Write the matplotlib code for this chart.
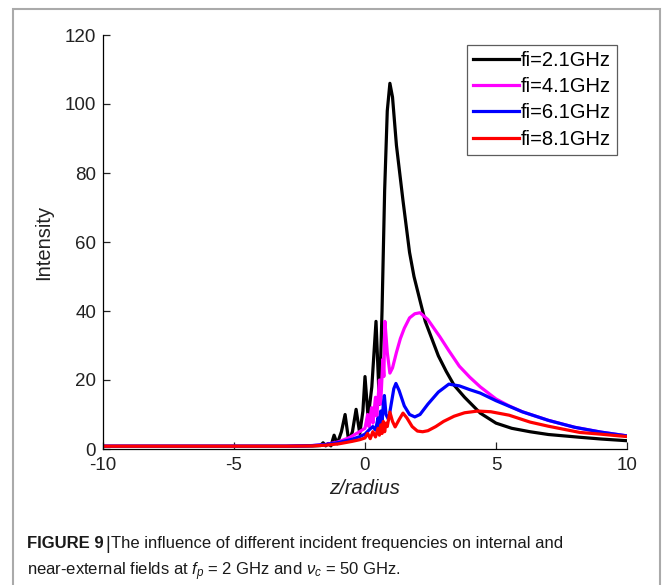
import matplotlib
matplotlib.use("Agg")
import matplotlib.pyplot as plt
from matplotlib.patches import Rectangle

plt.rcParams['font.family'] = ['Liberation Sans', 'DejaVu Sans']
plt.rcParams['mathtext.fontset'] = 'custom'
plt.rcParams['mathtext.it'] = 'Liberation Sans:italic'
plt.rcParams['mathtext.rm'] = 'Liberation Sans'
plt.rcParams['axes.unicode_minus'] = False

# ---- data ----
z_black = [-10, -6, -3, -2, -1.7, -1.6, -1.5, -1.4, -1.3, -1.18, -1.06, -0.9, -0.76, -0.62,
           -0.48, -0.34, -0.2, -0.08, 0.0, 0.12, 0.26, 0.42, 0.55, 0.65, 0.75, 0.85, 0.95,
           1.05, 1.2, 1.45, 1.7, 1.87, 2.1, 2.3, 2.5, 2.8, 3.1, 3.4, 3.8, 4.4, 5.0, 5.6,
           6.3, 7.0, 8.2, 9.0, 10.0]
i_black = [0.8, 0.8, 0.8, 0.9, 1.0, 1.8, 0.9, 1.6, 0.9, 4.0, 1.5, 5.0, 10.0, 2.2,
           5.0, 11.5, 4.5, 11.0, 21.0, 9.0, 18.0, 37.0, 13.0, 40.0, 75.0, 98.0, 106.0,
           102.0, 88.0, 72.0, 57.0, 50.0, 43.0, 37.0, 33.0, 27.0, 22.5, 18.5, 15.0, 10.4,
           7.5, 6.0, 5.0, 4.2, 3.4, 2.9, 2.4]

z_mag = [-10, -3, -2, -1.5, -1.0, -0.6, -0.3, 0.0, 0.1, 0.15, 0.25, 0.3, 0.4, 0.45, 0.55,
         0.6, 0.68, 0.72, 0.76, 0.85, 0.95, 1.05, 1.2, 1.35, 1.5, 1.7, 1.9, 2.1, 2.4,
         2.86, 3.2, 3.6, 4.0, 4.4, 5.0, 5.5, 6.0, 7.0, 8.0, 9.0, 10.0]
i_mag = [0.8, 0.8, 1.0, 1.3, 2.1, 3.3, 4.6, 6.0, 10.0, 6.5, 12.0, 7.5, 15.0, 9.5, 20.0,
         13.0, 26.0, 21.0, 37.0, 28.0, 22.0, 23.5, 28.0, 32.0, 35.0, 38.0, 39.2, 39.5,
         37.5, 32.5, 28.5, 24.0, 20.8, 18.0, 14.5, 12.5, 10.8, 8.3, 6.3, 4.9, 3.8]

z_blue = [-10, -3, -2, -1.5, -1, -0.5, -0.2, 0.0, 0.15, 0.3, 0.4, 0.5, 0.55, 0.6, 0.65,
          0.7, 0.74, 0.8, 0.9, 1.0, 1.1, 1.18, 1.3, 1.5, 1.7, 1.9, 2.1, 2.4, 2.8, 3.2,
          3.6, 4.0, 4.4, 5.0, 6.0, 7.0, 8.0, 9.0, 10.0]
i_blue = [0.8, 0.8, 1.0, 1.3, 1.9, 2.8, 3.6, 4.3, 5.5, 6.5, 5.5, 9.0, 6.5, 11.0, 7.5,
          13.0, 15.5, 10.0, 8.5, 13.0, 17.5, 19.0, 17.0, 12.5, 10.0, 9.3, 10.0, 13.0,
          16.5, 18.8, 18.3, 17.2, 16.2, 14.0, 10.8, 8.3, 6.3, 4.9, 3.8]

z_red = [-10, -3, -2, -1.5, -1, -0.5, -0.2, 0.0, 0.1, 0.2, 0.3, 0.4, 0.5, 0.55, 0.6, 0.65,
         0.7, 0.75, 0.8, 0.85, 0.95, 1.05, 1.15, 1.3, 1.45, 1.6, 1.8, 2.0, 2.2, 2.4, 2.7,
         3.0, 3.4, 3.8, 4.3, 4.8, 5.5, 6.3, 7.0, 8.2, 9.0, 10.0]
i_red = [0.8, 0.8, 0.9, 1.1, 1.5, 2.2, 2.7, 3.2, 4.5, 3.0, 5.0, 3.5, 6.0, 4.0, 7.0, 4.5,
         8.0, 5.0, 7.5, 6.5, 10.7, 8.0, 6.4, 8.5, 10.4, 9.0, 6.5, 5.2, 5.0, 5.3, 6.5,
         8.0, 9.5, 10.5, 11.0, 10.8, 9.8, 7.8, 6.6, 4.8, 4.3, 3.6]

labels = ['fi=2.1GHz', 'fi=4.1GHz', 'fi=6.1GHz', 'fi=8.1GHz']
colors = ['#000000', '#ff00ff', '#0000ff', '#ff0000']
x_ticks = [-10, -5, 0, 5, 10]
y_ticks = [0, 20, 40, 60, 80, 100, 120]

W, H = 665, 585
fig = plt.figure(figsize=(W / 100, H / 100), dpi=100)
ax = fig.add_axes([103 / W, 1 - 449 / H, (627 - 103) / W, (449 - 35) / H])

series = [(z_black, i_black), (z_mag, i_mag), (z_blue, i_blue), (z_red, i_red)]
for (zz, ii), lab, col in zip(series, labels, colors):
    ax.plot(zz, ii, color=col, lw=2.3, label=lab, solid_joinstyle='round')

ax.set_xlim(-10, 10)
ax.set_ylim(0, 120)
ax.set_xticks(x_ticks)
ax.set_yticks(y_ticks)
ax.spines['top'].set_visible(False)
ax.spines['right'].set_visible(False)
for s in ['left', 'bottom']:
    ax.spines[s].set_linewidth(0.9)
ax.tick_params(direction='in', length=5, width=0.9, labelsize=13.5, colors='#222222')
ax.tick_params(axis='x', pad=6)
ax.tick_params(axis='y', pad=5)
ax.set_xlabel('z/radius', fontsize=14.5, style='italic', color='#222222', labelpad=3)
ax.set_ylabel('Intensity', fontsize=14.5, color='#222222', labelpad=8)

leg = ax.legend(loc='upper right', bbox_to_anchor=(0.98, 0.976), fontsize=14.5,
                frameon=True, fancybox=False, edgecolor='#333333', handlelength=2.3,
                handletextpad=0.05, borderpad=0.3, labelspacing=0.36, borderaxespad=0)
leg.get_frame().set_linewidth(0.9)

# outer frame of the figure panel
fig.patches.append(Rectangle((13 / W, -0.05), (660 - 13) / W, 1 - 9 / H + 0.05,
                             transform=fig.transFigure, fill=False,
                             edgecolor='#aaaaaa', lw=1.5))

# caption
cap_family = ['Liberation Sans']
cap_size = 12.0
fig.canvas.draw()
r = fig.canvas.get_renderer()
x0 = 27 / W
y1 = 1 - 548 / H
t1 = fig.text(x0, y1, 'FIGURE 9', fontsize=cap_size, fontweight='bold', color='#1a1a1a',
              family=cap_family)
bb = t1.get_window_extent(r)
t2 = fig.text(bb.x1 / W + 2 / W, y1 - 1 / H, '|', fontsize=cap_size + 1, color='#1a1a1a',
              family=cap_family)
bb2 = t2.get_window_extent(r)
fig.text(bb2.x1 / W + 1 / W, y1,
         'The influence of different incident frequencies on internal and',
         fontsize=cap_size, color='#1a1a1a', family=cap_family)
fig.text(x0, 1 - 575 / H,
         r'near-external fields at $f_p$ = 2 GHz and $\nu_c$ = 50 GHz.',
         fontsize=cap_size, color='#1a1a1a', family=cap_family)

fig.savefig('out.png', dpi=100)
